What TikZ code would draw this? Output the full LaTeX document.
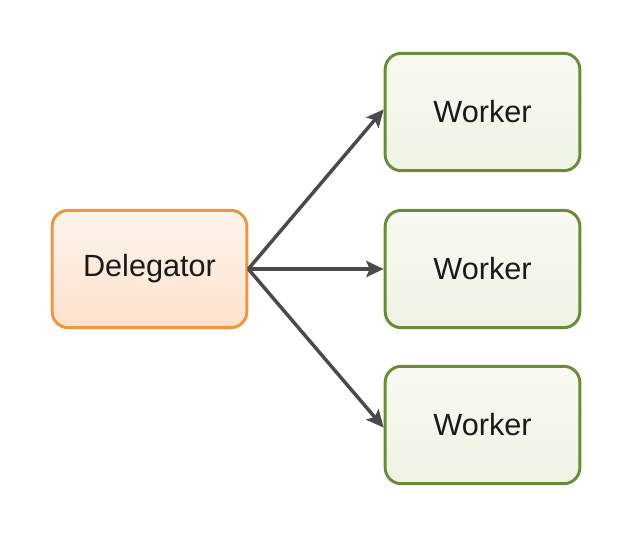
\documentclass[tikz,border=0pt]{standalone}
\usepackage{fontspec}
\setmainfont{Liberation Sans}
\usetikzlibrary{arrows.meta}
\definecolor{delegline}{HTML}{F0963C}
\definecolor{delegtop}{HTML}{FFF4EC}
\definecolor{delegbot}{HTML}{FDE1CD}
\definecolor{workline}{HTML}{6A8C3A}
\definecolor{worktop}{HTML}{F8FAF3}
\definecolor{workbot}{HTML}{EEF3E3}
\definecolor{arrowgray}{HTML}{4A4A4A}
\definecolor{textdark}{HTML}{1A1A1A}
\tikzset{every picture/.style={line width=0.75pt}}
\tikzset{
  delegbox/.style={draw=delegline, line width=2.2pt, rounded corners=12pt, top color=delegtop, bottom color=delegbot, minimum width=146pt, minimum height=88pt, inner sep=0pt, text=textdark, font=\fontsize{23}{27}\selectfont},
  workbox/.style={draw=workline, line width=2.2pt, rounded corners=12pt, top color=worktop, bottom color=workbot, minimum width=146pt, minimum height=88pt, inner sep=0pt, text=textdark, font=\fontsize{23}{27}\selectfont},
  link/.style={draw=arrowgray, line width=2.6pt, -{Stealth[length=13pt,width=12pt,inset=2.5pt]}}
}
\begin{document}
\begin{tikzpicture}[x=0.75pt,y=0.75pt,yscale=-1,xscale=1]
    \useasboundingbox[fill=white] (0,0) rectangle (640,544);
    % Delegator
    \node [delegbox] (deleg) at (149.5,269) {Delegator};
    % Workers
    \node [workbox] (work1) at (482.5,112) {Worker};
    \node [workbox] (work2) at (482.5,269) {Worker};
    \node [workbox] (work3) at (482.5,425) {Worker};
    % Links
    \draw [link] (deleg.east) -- ([yshift=-2pt]work1.west);
    \draw [link] (deleg.east) -- (work2.west);
    \draw [link] (deleg.east) -- ([yshift=2pt]work3.west);
\end{tikzpicture}
\end{document}
